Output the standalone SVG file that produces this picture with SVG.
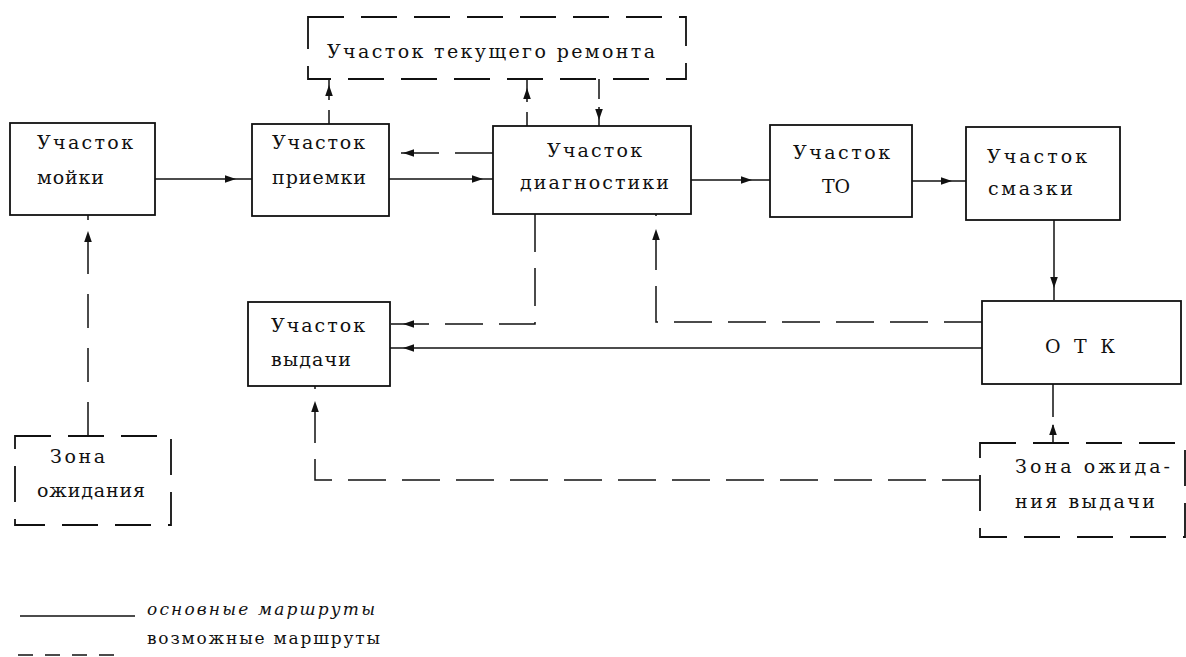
<svg xmlns="http://www.w3.org/2000/svg" width="1186" height="657" viewBox="0 0 1186 657">
<style>
.box{fill:#fff;stroke:#111;stroke-width:1.8}
.dbox{fill:#fff;stroke:#111;stroke-width:1.8;stroke-dasharray:36 17}
.ln{fill:none;stroke:#111;stroke-width:1.5}
.dl{fill:none;stroke:#111;stroke-width:1.5;stroke-dasharray:38 16}
.t{font-family:"DejaVu Serif","Liberation Serif",serif;font-size:19px;fill:#111}
.lg{font-family:"DejaVu Serif","Liberation Serif",serif;font-size:17px;fill:#111}
</style>
<defs>
<path id="ah" d="M0,0 L-11,-3.8 L-11,3.8 Z" fill="#111"/>
</defs>
<rect width="1186" height="657" fill="#fff"/>

<g id="connectors">
<line class="ln" x1="155" y1="179" x2="252" y2="179"/>
<use href="#ah" transform="translate(236,179)"/>
<line class="ln" x1="389" y1="179" x2="493" y2="179"/>
<use href="#ah" transform="translate(483,179)"/>
<path class="dl" d="M493,153 H389"/>
<use href="#ah" transform="translate(403,153) rotate(180)"/>
<line class="ln" x1="691" y1="180" x2="770" y2="180"/>
<use href="#ah" transform="translate(752,180)"/>
<line class="ln" x1="912" y1="181" x2="966" y2="181"/>
<use href="#ah" transform="translate(952,181)"/>
<line class="ln" x1="1054" y1="220" x2="1054" y2="300"/>
<use href="#ah" transform="translate(1054,288) rotate(90)"/>
<path class="dl" d="M329,124 V79" style="stroke-dasharray:14 10 30 8"/>
<use href="#ah" transform="translate(329,85) rotate(-90)"/>
<path class="dl" d="M527,126 V79" style="stroke-dasharray:14 10 30 8"/>
<use href="#ah" transform="translate(527,88) rotate(-90)"/>
<path class="dl" d="M599,79 V126" style="stroke-dasharray:20 8 30 8"/>
<use href="#ah" transform="translate(599,120) rotate(90)"/>
<path class="dl" d="M535,214 V324 H390"/>
<use href="#ah" transform="translate(403,324) rotate(180)"/>
<line class="ln" x1="982" y1="348" x2="390" y2="348"/>
<use href="#ah" transform="translate(403,348) rotate(180)"/>
<path class="dl" d="M982,322 H656 V214"/>
<use href="#ah" transform="translate(656,229) rotate(-90)"/>
<path class="dl" d="M980,480 H315 V386"/>
<use href="#ah" transform="translate(315,401) rotate(-90)"/>
<path class="ln" d="M1053,384 V443" style="stroke-dasharray:33 8 30"/>
<use href="#ah" transform="translate(1053,424) rotate(-90)"/>
<path class="dl" d="M88,436 V215" style="stroke-dasharray:34 20"/>
<use href="#ah" transform="translate(88,231) rotate(-90)"/>
</g>

<g id="n-moyka">
<rect class="box" x="10" y="123" width="145" height="92"/>
<text class="t" x="37" y="149" textLength="96">Участок</text>
<text class="t" x="37" y="184" textLength="67">мойки</text>
</g>
<g id="n-priemka">
<rect class="box" x="252" y="124" width="137" height="92"/>
<text class="t" x="272" y="149" textLength="93">Участок</text>
<text class="t" x="272" y="184" textLength="94">приемки</text>
</g>
<g id="n-remont">
<rect class="dbox" x="308" y="17" width="378" height="62"/>
<text class="t" x="327" y="58" textLength="328">Участок текущего ремонта</text>
</g>
<g id="n-diag">
<rect class="box" x="493" y="126" width="198" height="88"/>
<text class="t" x="547" y="157" textLength="95">Участок</text>
<text class="t" x="520" y="189" textLength="149">диагностики</text>
</g>
<g id="n-to">
<rect class="box" x="770" y="125" width="142" height="92"/>
<text class="t" x="793" y="159" textLength="97">Участок</text>
<text class="t" x="822" y="193" textLength="28">ТО</text>
</g>
<g id="n-smazka">
<rect class="box" x="966" y="127" width="154" height="93"/>
<text class="t" x="987" y="163" textLength="100">Участок</text>
<text class="t" x="988" y="195" textLength="85">смазки</text>
</g>
<g id="n-otk">
<rect class="box" x="982" y="301" width="199" height="83"/>
<text class="t" x="1045" y="353" textLength="70">О Т К</text>
</g>
<g id="n-vydacha">
<rect class="box" x="248" y="302" width="142" height="84"/>
<text class="t" x="271" y="332" textLength="94">Участок</text>
<text class="t" x="271" y="366" textLength="80">выдачи</text>
</g>
<g id="n-zona-vydachi">
<rect class="dbox" x="980" y="443" width="205" height="94"/>
<text class="t" x="1015" y="473" textLength="155">Зона ожида-</text>
<text class="t" x="1015" y="508" textLength="140">ния выдачи</text>
</g>
<g id="n-zona">
<rect class="dbox" x="15" y="436" width="156" height="89"/>
<text class="t" x="50" y="463" textLength="55">Зона</text>
<text class="t" x="37" y="497" textLength="108">ожидания</text>
</g>

<g id="legend">
<line class="ln" x1="20" y1="616" x2="135" y2="616"/>
<text class="lg" x="147" y="615" textLength="228" font-style="italic">основные маршруты</text>
<line class="ln" x1="18" y1="655" x2="120" y2="655" style="stroke-dasharray:15 12"/>
<text class="lg" x="147" y="644" textLength="233">возможные маршруты</text>
</g>
</svg>
